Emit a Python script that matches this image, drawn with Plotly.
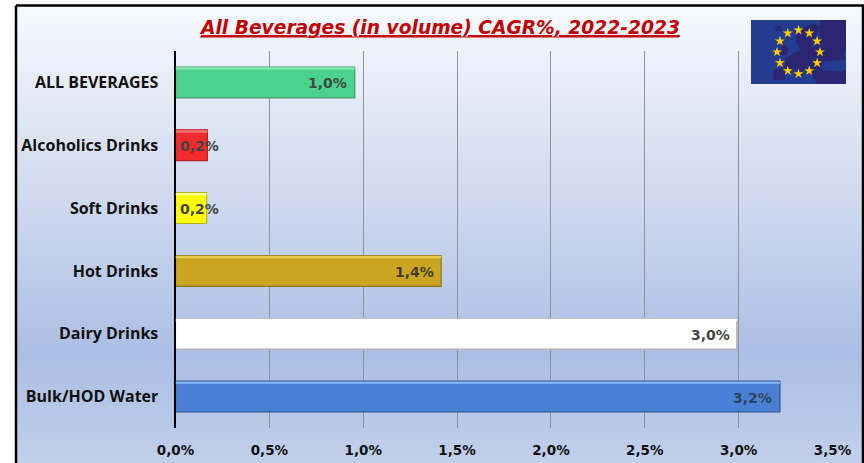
import math
import plotly.graph_objects as go

TITLE = "All Beverages (in volume) CAGR%, 2022-2023"
categories = ["ALL BEVERAGES", "Alcoholics Drinks", "Soft Drinks", "Hot Drinks", "Dairy Drinks", "Bulk/HOD Water"]
values = [0.955, 0.17, 0.166, 1.415, 2.99, 3.22]
value_labels = ["1,0%", "0,2%", "0,2%", "1,4%", "3,0%", "3,2%"]
tick_values = [0, 0.5, 1.0, 1.5, 2.0, 2.5, 3.0, 3.5]
tick_labels = ["0,0%", "0,5%", "1,0%", "1,5%", "2,0%", "2,5%", "3,0%", "3,5%"]

bar_fill = ["#4cd28c", "#f22c2c", "#ffff00", "#c9a522", "#ffffff", "#4a7fd6"]
bar_edge = ["#3a9d68", "#b52020", "#b5b520", "#8f7518", "#b0b0b0", "#2c5290"]
bar_top = ["#7fe6ae", "#ff7070", "#ffff90", "#ecce50", "#ffffff", "#7fb2f2"]
label_color = ["#3c4a44", "#444444", "#444444", "#443e2a", "#444444", "#2f4260"]
label_shift = [-6, 14, 14, -5, -5, -6]

W, H = 864, 463
fig = go.Figure()

# Card background and frame, drawn in a pixel-sized underlay subplot
fig.add_trace(go.Scatter(
    x=[16, 863, 863, 16, 16], y=[5.5, 5.5, 470, 470, 5.5],
    xaxis="x", yaxis="y", mode="lines", fill="toself",
    line=dict(color="#000000", width=2.5),
    fillgradient=dict(type="vertical", colorscale=[
        [0.0, "#c2d1eb"], [0.25, "#abbee4"], [0.5, "#c6d3ec"], [0.75, "#dfe6f4"], [1.0, "#f6f9ff"]]),
    hoverinfo="skip", showlegend=False))

# Bars
fig.add_trace(go.Bar(
    y=categories, x=values, orientation="h", xaxis="x2", yaxis="y2",
    marker=dict(color=bar_fill, line=dict(color=bar_edge, width=1.2)),
    width=0.49, showlegend=False, hoverinfo="skip"))

shapes = []
for i, v in enumerate(values):
    shapes.append(dict(type="rect", xref="x2", yref="y2", layer="above",
                       x0=0, x1=v, y0=i - 0.24, y1=i - 0.2,
                       fillcolor=bar_top[i], line=dict(width=0)))
# Thicker title underline
shapes.append(dict(type="line", xref="x", yref="y", layer="above", x0=200, x1=679, y0=37, y1=37,
                   line=dict(color="#c00000", width=1)))

annotations = [dict(
    x=v, y=c, xref="x2", yref="y2", text=f"<b>{t}</b>", showarrow=False,
    xanchor="right", xshift=s, yshift=-1, font=dict(family="DejaVu Sans", size=14, color=col))
    for v, c, t, s, col in zip(values, categories, value_labels, label_shift, label_color)]

annotations.append(dict(
    x=439, y=27, xref="x", yref="y", showarrow=False,
    text=f"<b><i><u>{TITLE}</u></i></b>",
    font=dict(family="DejaVu Sans", size=18.66, color="#c00000")))

# Flag, in its own subplot on top
land_px_x = [85, 120, 120, 150, 165, 150, 170, 205, 225, 215, 195, 225, 225, 302, 302, 295, 302, 285, 235, 225, 285, 302, 302, 215, 195, 175, 165, 150, 120, 120, 85, None,
             110, 130, 125, 110, 110, None, 90, 110, 108, 92, 90]
land_px_y = [165, 155, 130, 110, 105, 70, 40, 25, 35, 60, 100, 85, 15, 15, 100, 120, 135, 135, 140, 165, 170, 165, 207, 207, 170, 165, 190, 165, 170, 195, 195, None,
             80, 100, 120, 120, 80, None, 34, 34, 47, 47, 34]
map_x = [None if p is None else (p - 18) / 284 for p in land_px_x]
map_y = [None if p is None else (207 - p) / 192 for p in land_px_y]
fig.add_trace(go.Scatter(
    x=[0, 1, 1, 0, 0], y=[0, 0, 1, 1, 0], xaxis="x3", yaxis="y3", mode="lines",
    fill="toself", fillcolor="#243c90", line=dict(width=0), hoverinfo="skip", showlegend=False))
fig.add_trace(go.Scatter(
    x=map_x, y=map_y, xaxis="x3", yaxis="y3", mode="lines",
    fill="toself", fillcolor="#2a2672", line=dict(width=0), hoverinfo="skip", showlegend=False))
star_angles = [k * 30 for k in range(12)]
fig.add_trace(go.Scatter(
    x=[0.5 + 0.226 * math.cos(math.radians(a)) for a in star_angles],
    y=[0.5 + 0.34 * math.sin(math.radians(a)) for a in star_angles],
    xaxis="x3", yaxis="y3", mode="markers",
    marker=dict(symbol="star", size=7.5, color="#ffcc00", line=dict(width=0)),
    hoverinfo="skip", showlegend=False))

PX0, PX1 = 175.5, 832.5
PY0, PY1 = 51, 428
FX0, FX1, FY0, FY1 = 751, 846, 20, 84
hidden = dict(visible=False, fixedrange=True, automargin=False)

fig.update_layout(
    width=W, height=H, margin=dict(l=0, r=0, t=0, b=0, autoexpand=False),
    paper_bgcolor="#ffffff", plot_bgcolor="rgba(0,0,0,0)",
    bargap=0.5, showlegend=False, shapes=shapes, annotations=annotations,
    xaxis=dict(domain=[0, 1], range=[0, W], **hidden),
    yaxis=dict(domain=[0, 1], range=[H, 0], **hidden),
    xaxis2=dict(
        domain=[PX0 / W, PX1 / W], range=[0, 3.5], anchor="y2", automargin=False,
        tickmode="array", tickvals=tick_values, ticktext=[f"<b>{t}</b>" for t in tick_labels],
        showgrid=True, gridcolor="#8f9298", gridwidth=1.2, zeroline=False, ticks="", showline=False,
        tickfont=dict(family="DejaVu Sans", size=13.5, color="#111111"), ticklabelstandoff=12),
    yaxis2=dict(
        domain=[1 - PY1 / H, 1 - PY0 / H], anchor="x2", type="category", automargin=False,
        categoryorder="array", categoryarray=categories, autorange=False, range=[5.5, -0.5],
        tickmode="array", tickvals=categories, ticktext=[f"<b>{c}</b>" for c in categories],
        showgrid=False, zeroline=False, ticks="", showline=True, linecolor="#000000", linewidth=2,
        tickfont=dict(family="Open Sans", size=16, color="#111111"), ticklabelstandoff=12),
    xaxis3=dict(domain=[FX0 / W, FX1 / W], range=[0, 1], anchor="y3", **hidden),
    yaxis3=dict(domain=[1 - FY1 / H, 1 - FY0 / H], range=[0, 1], anchor="x3", **hidden),
)

fig.write_html(
    "out.html", config=dict(displayModeBar=False),
    post_script="document.body.style.margin='0';document.body.style.overflow='hidden';")
